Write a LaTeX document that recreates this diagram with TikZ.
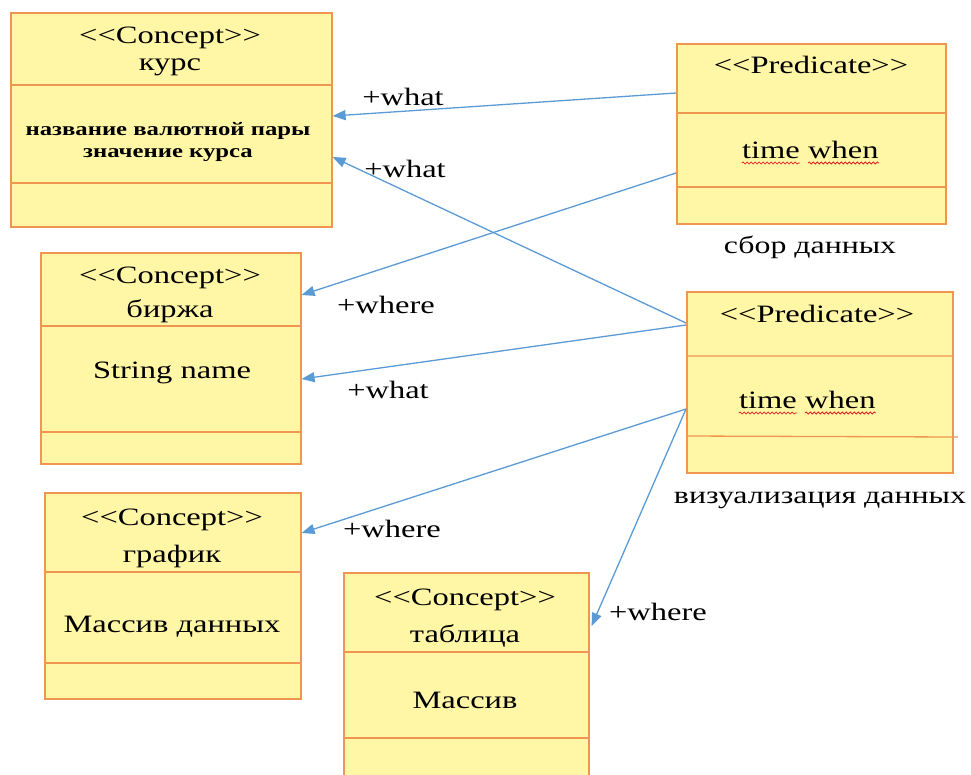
\documentclass[tikz,border=0pt]{standalone}
\usepackage{fontspec}
\setmainfont{Liberation Serif}[FakeStretch=1.3, Ligatures=TeXOff]
\usetikzlibrary{arrows.meta,calc,decorations.pathmorphing}
\definecolor{boxfill}{RGB}{255,247,166}
\definecolor{boxline}{RGB}{241,150,80}
\definecolor{assoccol}{RGB}{91,155,213}
\definecolor{spellred}{RGB}{225,35,35}

\begin{document}
\begin{tikzpicture}[x=1pt,y=-1pt,
  umlbox/.style={draw=boxline, fill=boxfill, line width=1.6pt, rectangle,
    inner sep=0pt, anchor=north west},
  part/.style={draw=boxline, line width=1.3pt},
  txt/.style={inner sep=0pt, anchor=base, font=\fontsize{25}{28}\selectfont},
  small/.style={inner sep=0pt, anchor=base, font=\bfseries\fontsize{19}{22}\selectfont},
  caption/.style={inner sep=0pt, anchor=base, font=\fontsize{24.5}{28}\selectfont},
  assoc/.style={draw=assoccol, line width=1.3pt,
    -{Triangle[length=13pt,width=10pt]}},
  wavy/.style={draw=spellred, line width=0.8pt,
    decorate, decoration={snake, amplitude=1pt, segment length=4pt}}
]
\useasboundingbox (0,0) rectangle (971,774);
\clip (0,0) rectangle (971,774);

% ---- concept boxes ----
\node[umlbox, minimum width=321pt, minimum height=214pt] (kurs) at (10,12) {};
\draw[part] (10,85) -- (331,85) (10,183) -- (331,183);
\node[txt] (kursA) at (170,43) {<<Concept>>};
\node[txt] (kursB) at (170,70) {курс};
\node[small] (kursC) at (168,135) {название валютной пары};
\node[small] (kursD) at (168,157) {значение курса};

\node[umlbox, minimum width=260pt, minimum height=211pt] (birzha) at (40,252) {};
\draw[part] (40,326) -- (300,326) (40,432) -- (300,432);
\node[txt] (birzhaA) at (170,283) {<<Concept>>};
\node[txt] (birzhaB) at (170,317) {биржа};
\node[txt] (birzhaC) at (172,378) {String name};

\node[umlbox, minimum width=256pt, minimum height=206pt] (grafik) at (44,492) {};
\draw[part] (44,572) -- (300,572) (44,663) -- (300,663);
\node[txt] (grafikA) at (172,525) {<<Concept>>};
\node[txt] (grafikB) at (172,562) {график};
\node[txt] (grafikC) at (172,632) {Массив данных};

\node[umlbox, minimum width=245pt, minimum height=215pt] (tabl) at (343,572) {};
\draw[part] (343,652) -- (588,652) (343,738) -- (588,738);
\node[txt] (tablA) at (465,605) {<<Concept>>};
\node[txt] (tablB) at (465,642) {таблица};
\node[txt] (tablC) at (465,708) {Массив};

% ---- predicate boxes ----
\node[umlbox, minimum width=269pt, minimum height=180pt] (pred1) at (676,43) {};
\draw[part] (676,113) -- (945,113) (676,187) -- (945,187);
\node[txt] (pred1A) at (811,73) {<<Predicate>>};
\node[txt, anchor=base east] (pred1t) at (800,158) {time};
\node[txt, anchor=base west] (pred1w) at (808,158) {when};
\draw[wavy] ($(pred1t.base west)+(0,5)$) -- ($(pred1t.base east)+(0,5)$);
\draw[wavy] ($(pred1w.base west)+(0,5)$) -- ($(pred1w.base east)+(0,5)$);
\node[caption] (pred1N) at (810,253) {сбор данных};

\node[umlbox, minimum width=266pt, minimum height=181pt] (pred2) at (686,291) {};
\draw[part] (686,356) -- (952,356) (686,436) -- (958,437);
\node[txt] (pred2A) at (817,322) {<<Predicate>>};
\node[txt, anchor=base east] (pred2t) at (797,408) {time};
\node[txt, anchor=base west] (pred2w) at (805,408) {when};
\draw[wavy] ($(pred2t.base west)+(0,5)$) -- ($(pred2t.base east)+(0,5)$);
\draw[wavy] ($(pred2w.base west)+(0,5)$) -- ($(pred2w.base east)+(0,5)$);
\node[caption] (pred2N) at (820,503) {визуализация данных};

% ---- associations ----
\draw[assoc] ($(pred1.north west)+(0,50)$) -- ($(kurs.north east)+(0,104)$);
\draw[assoc] ($(pred1.north west)+(0,130)$) -- ($(birzha.north east)+(0,43)$);
\draw[assoc] ($(pred2.north west)+(0,32)$) -- ($(kurs.north east)+(0,145)$);
\draw[assoc] ($(pred2.north west)+(0,34)$) -- ($(birzha.north east)+(0,127)$);
\draw[assoc] ($(pred2.north west)+(0,118)$) -- ($(grafik.north east)+(0,41)$);
\draw[assoc] ($(pred2.north west)+(0,118)$) -- ($(tabl.north east)+(2,54)$);

% ---- role names ----
\node[txt] (r1) at (403,105) {+what};
\node[txt] (r2) at (386,313) {+where};
\node[txt] (r3) at (405,177) {+what};
\node[txt] (r4) at (388,398) {+what};
\node[txt] (r5) at (392,537) {+where};
\node[txt] (r6) at (658,620) {+where};
\end{tikzpicture}
\end{document}
